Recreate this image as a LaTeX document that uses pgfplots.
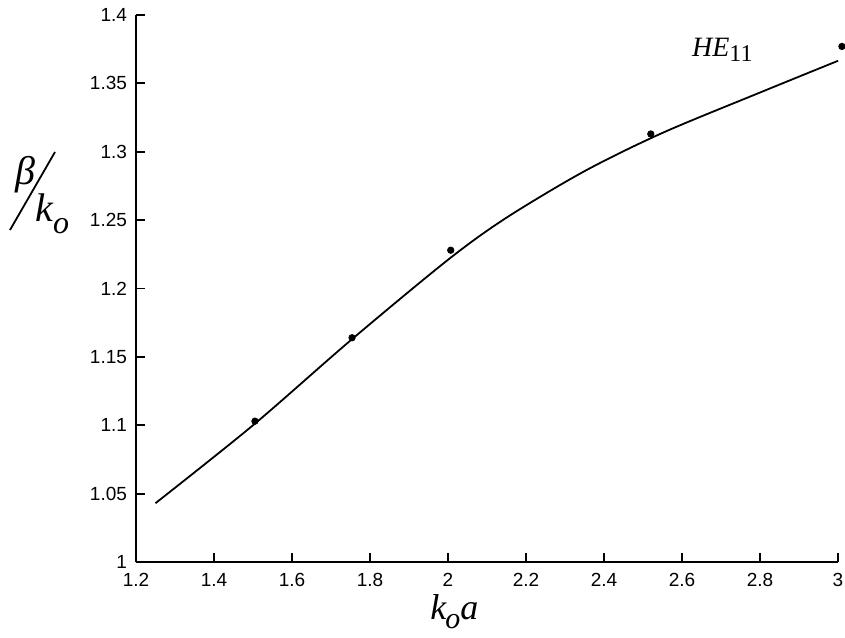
\documentclass[border=0pt]{standalone}
\usepackage{pgfplots}
\pgfplotsset{compat=1.18}
\usepackage{fontspec}
\setmainfont{Liberation Sans}
\newfontfamily\tnr{Liberation Serif}
\begin{document}
\begin{tikzpicture}
\begin{axis}[
  at={(0,0)}, anchor=south west,
  scale only axis, width=351pt, height=273.5pt,
  xmin=1.2, xmax=3, ymin=1, ymax=1.4,
  axis x line=bottom, axis y line=left,
  axis line style={-, line width=1.2pt},
  tick align=inside, major tick length=4.5pt,
  tick style={line width=0.9pt, black},
  xtick={1.2,1.4,...,3.01}, ytick={1,1.05,...,1.41},
  /pgf/number format/assume math mode=true,
  tick label style={font=\fontsize{9.5}{11}\selectfont},
  xticklabel style={yshift=-2pt},
  yticklabel style={xshift=-1pt},
  xticklabel={\pgfmathprintnumber[fixed,precision=2]{\tick}},
  yticklabel={\pgfmathprintnumber[fixed,precision=2]{\tick}},
  clip=false,
]
\addplot[black, line width=0.9pt, smooth] coordinates {
  (1.25,1.043) (1.5,1.100) (1.75,1.162) (2.0,1.221) (2.15,1.2518)
  (2.35,1.2858) (2.55,1.3138) (2.8,1.3433) (3.0,1.3665)
};
\addplot[only marks, mark=*, mark size=1.6pt, black] coordinates {
  (1.505,1.103) (1.754,1.164) (2.007,1.228) (2.52,1.313) (3.01,1.377)
};
\node[anchor=base west, inner sep=0pt] at (axis cs:2.625,1.370)
  {{\tnr\itshape\fontsize{14}{16}\selectfont HE}\raisebox{-0.5ex}{\tnr\fontsize{12}{13}\selectfont 11}};
\end{axis}
% y label: beta / k_o
\node[inner sep=0pt] at (-55.5pt,193.5pt) {\tnr\itshape\fontsize{20}{22}\selectfont β};
\draw[line width=0.9pt] (-63pt,166pt) -- (-40.5pt,205pt);
\node[anchor=base west, inner sep=0pt] at (-50.5pt,170pt)
  {\tnr\itshape\fontsize{20}{22}\selectfont k\raisebox{-0.3em}{\fontsize{16}{18}\selectfont o}};
% x label: k_o a
\node[anchor=base west, inner sep=0pt] at (147pt,-28.5pt)
  {\tnr\itshape\fontsize{18}{20}\selectfont k\kern-0.5pt\raisebox{-0.25em}{\fontsize{15}{17}\selectfont o}a};
\pgfresetboundingbox
\path (-68pt,-37.5pt) rectangle (354.5pt,281pt);
\end{tikzpicture}
\end{document}
